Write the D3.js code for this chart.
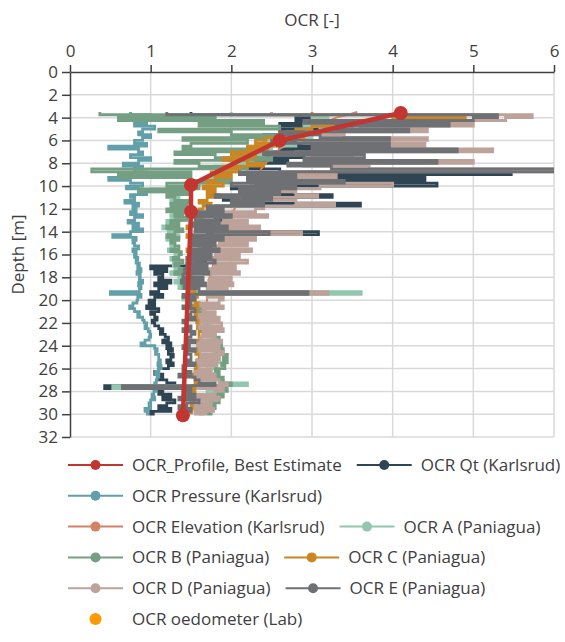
<!DOCTYPE html>
<html>
<head>
<meta charset="utf-8">
<script src="https://cdn.jsdelivr.net/npm/d3@7/dist/d3.min.js"></script>
<style>
  body { margin: 0; background: #fff; }
  svg text { font-family: "Open Sans", "Noto Sans", sans-serif; fill: #404040; }
</style>
</head>
<body>
<div id="chart"></div>
<script>
// ---- data ----
const xTicks = [0, 1, 2, 3, 4, 5, 6];
const yTicks = [0, 2, 4, 6, 8, 10, 12, 14, 16, 18, 20, 22, 24, 26, 28, 30, 32];

// CPT depth samples [m]
const depth = [
  3.5, 3.75,
  4, 4.25, 4.5, 4.75,  5, 5.25, 5.5, 5.75,  6, 6.25, 6.5, 6.75,  7, 7.25, 7.5, 7.75,
  8, 8.25, 8.5, 8.75,  9, 9.25, 9.5, 9.75,  10, 10.25, 10.5, 10.75,  11, 11.25, 11.5, 11.75,
  12, 12.25, 12.5, 12.75,  13, 13.25, 13.5, 13.75,  14, 14.25, 14.5, 14.75,  15, 15.25, 15.5, 15.75,
  16, 16.25, 16.5, 16.75,  17, 17.25, 17.5, 17.75,  18, 18.25, 18.5, 18.75,  19, 19.25, 19.5, 19.75,
  20, 20.25, 20.5, 20.75,  21, 21.25, 21.5, 21.75,  22, 22.25, 22.5, 22.75,  23, 23.25, 23.5, 23.75,
  24, 24.25, 24.5, 24.75,  25, 25.25, 25.5, 25.75,  26, 26.25, 26.5, 26.75,  27, 27.25, 27.5, 27.75,
  28, 28.25, 28.5, 28.75,  29, 29.25, 29.5, 29.75,
  30
];

const ocrQt = [
  1.5, 3.0,
  2.8, 3.2, 2.6, 3.4,  2.6, 3.0, 2.4, 2.8,  2.5, 3.2, 2.6, 3.0,  2.5, 2.9, 2.3, 2.7,
  2.4, 2.2, 2.6, 5.47,  2.2, 4.4, 2.3, 4.55,  2.0, 2.75, 2.1, 3.25,  1.9, 2.2, 3.6, 1.8,
  1.75, 1.9, 1.8, 1.93,  1.85, 1.7, 1.9, 1.65,  3.08, 1.7, 1.65, 1.75,  1.65, 1.8, 1.6, 1.72,
  1.62, 1.55, 1.68, 1.45,  1.0, 1.2, 1.05, 1.15,  1.1, 1.25, 1.05, 1.2,  1.1, 1.0, 1.15, 1.05,
  0.98, 1.05, 0.95, 1.1,  1.0, 1.05, 1.08, 1.02,  1.05, 1.1, 1.15, 1.12,  1.18, 1.22, 1.15, 1.25,
  1.2, 1.27, 1.22, 1.28,  1.25, 1.2, 1.28, 1.22,  1.1, 1.05, 1.15, 1.1,  1.2, 1.3, 0.43, 1.15,
  1.1, 1.25, 1.15, 1.3,  1.2, 1.1, 1.25, 1.0,
  1.05
];

const ocrPressure = [
  0.75, 1.0,
  0.85, 0.95, 0.8, 1.05,  0.9, 0.85, 1.0, 0.9,  0.8, 0.95, 0.48, 0.85,  0.9, 0.75, 1.0, 0.85,
  0.66, 0.9, 0.8, 0.95,  0.7, 0.48, 0.75, 0.9,  0.7, 0.85, 0.95, 0.75,  0.8, 0.68, 0.85, 0.78,
  0.82, 0.75, 0.9, 0.8,  0.72, 0.85, 0.78, 0.9,  0.75, 0.53, 0.82, 0.78,  0.8, 0.85, 0.78, 0.82,
  0.8, 0.84, 0.82, 0.86,  0.84, 0.88, 0.83, 0.87,  0.86, 0.9, 0.85, 0.88,  0.86, 0.5, 0.88, 0.84,
  0.83, 0.78, 0.74, 0.8,  0.86, 0.84, 0.9, 0.92,  0.95, 0.93, 0.97, 0.99,  1.0, 0.98, 0.93, 0.88,
  1.05, 1.08, 1.06, 1.1,  1.1, 1.12, 1.09, 1.13,  1.1, 1.06, 1.1, 1.08,  1.07, 1.05, 1.03, 1.06,
  1.04, 1.02, 1.05, 1.0,  0.98, 1.0, 0.93, 0.96,
  0.98
];

const ocrElevation = [
  3.56, 3.45,
  3.3, 3.22, 3.12, 3.05,  2.96, 2.9, 2.84, 2.79,  2.74, 2.7, 2.66, 2.6,  2.56, 2.52, 2.49, 2.45,
  2.43, 2.4, 2.37, 2.35,  2.33, 2.3, 2.28, 2.26,  2.23, 2.2, 2.18, 2.16,  2.13, 2.1, 2.08, 2.06,
  2.04, 2.01, 1.99, 1.97,  1.96, 1.95, 1.93, 1.92,  1.91, 1.9, 1.88, 1.87,  1.86, 1.85, 1.84, 1.83,
  1.82, 1.8, 1.79, 1.78,  1.77, 1.76, 1.75, 1.74,  1.73, 1.72, 1.72, 1.71,  1.71, 1.7, 1.7, 1.7,
  1.7, 1.69, 1.69, 1.68,  1.68, 1.68, 1.67, 1.67,  1.66, 1.66, 1.65, 1.65,  1.64, 1.64, 1.63, 1.63,
  1.62, 1.62, 1.61, 1.61,  1.6, 1.6, 1.59, 1.59,  1.58, 1.58, 1.57, 1.57,  1.56, 1.56, 1.55, 1.55,
  1.55, 1.54, 1.54, 1.53,  1.53, 1.52, 1.52, 1.51,
  1.51
];

const ocrA = [
  2.0, 3.2,
  3.0, 3.4, 2.9, 3.5,  3.1, 2.7, 3.0, 2.6,  2.4, 2.8, 2.2, 2.5,  2.1, 2.4, 1.9, 2.2,
  2.0, 1.8, 2.1, 1.9,  1.8, 1.7, 1.77, 1.6,  1.5, 1.0, 1.4, 1.3,  1.35, 1.25, 1.4, 1.3,
  1.3, 1.35, 1.25, 1.4,  1.2, 1.3, 1.15, 1.28,  1.22, 1.35, 1.2, 1.3,  1.25, 1.3, 1.22, 1.35,
  1.3, 1.25, 1.35, 1.28,  1.3, 1.4, 1.25, 1.35,  1.4, 1.3, 1.45, 1.35,  1.45, 3.61, 1.5, 1.4,
  1.45, 1.5, 1.55, 1.6,  1.55, 1.6, 1.65, 1.58,  1.6, 1.7, 1.65, 1.75,  1.7, 1.78, 1.72, 1.8,
  1.75, 1.82, 1.78, 1.85,  1.8, 1.85, 1.78, 1.82,  1.7, 1.75, 1.65, 1.8,  1.9, 2.2, 0.53, 1.85,
  1.7, 1.8, 1.65, 1.75,  1.6, 1.7, 1.55, 1.65,
  1.6
];

const ocrB = [
  0.37, 1.8,
  0.6, 2.4, 1.6, 2.6,  1.1, 2.0, 2.8, 1.4,  2.2, 1.5, 1.4, 2.3,  1.3, 1.8, 2.5, 1.3,
  1.6, 2.2, 0.27, 1.5,  0.6, 1.5, 2.0, 1.2,  1.6, 0.85, 1.5, 1.2,  1.3, 1.5, 1.25, 1.45,
  1.2, 1.4, 1.3, 1.45,  1.25, 1.35, 1.2, 1.4,  1.3, 1.2, 1.35, 1.25,  1.3, 1.35, 1.25, 1.38,
  1.35, 1.28, 1.4, 1.3,  1.35, 1.42, 1.3, 1.4,  1.45, 1.38, 1.5, 1.4,  1.5, 1.55, 1.45, 1.5,
  1.55, 1.6, 1.5, 1.65,  1.6, 1.7, 1.62, 1.72,  1.7, 1.75, 1.68, 1.8,  1.78, 1.85, 1.8, 1.88,
  1.85, 1.9, 1.82, 1.95,  1.9, 1.95, 1.88, 1.92,  1.8, 1.85, 1.75, 1.9,  1.85, 2.0, 1.8, 1.95,
  1.8, 1.9, 1.75, 1.85,  1.7, 1.8, 1.65, 1.75,
  1.7
];

const ocrC = [
  3.0, 4.9,
  4.0, 3.6, 3.36, 3.0,  2.8, 2.6, 2.9, 2.43,  2.3, 2.6, 2.2, 2.45,  2.0, 2.3, 1.9, 2.2,
  2.4, 1.9, 2.1, 1.75,  2.0, 1.8, 1.7, 1.9,  1.65, 1.8, 1.7, 1.85,  1.7, 1.6, 1.75, 1.65,
  1.6, 1.55, 1.65, 1.5,  1.5, 1.55, 1.45, 1.5,  1.5, 1.45, 1.52, 1.48,  1.48, 1.5, 1.45, 1.5,
  1.5, 1.45, 1.52, 1.48,  1.48, 1.52, 1.46, 1.5,  1.52, 1.48, 1.55, 1.5,  1.55, 1.5, 1.58, 1.52,
  1.55, 1.6, 1.52, 1.58,  1.58, 1.55, 1.6, 1.57,  1.6, 1.58, 1.62, 1.6,  1.6, 1.62, 1.58, 1.6,
  1.58, 1.6, 1.56, 1.6,  1.6, 1.57, 1.6, 1.58,  1.55, 1.58, 1.52, 1.56,  1.55, 1.6, 1.52, 1.55,
  1.52, 1.55, 1.5, 1.54,  1.5, 1.52, 1.48, 1.5,
  1.5
];

const ocrD = [
  2.5, 5.73,
  5.4, 3.3, 5.0, 3.6,  4.43, 3.0, 3.4, 4.43,  2.9, 4.4, 3.2, 5.24,  2.8, 3.5, 3.0, 5.0,
  2.9, 3.71, 6.2, 2.6,  3.3, 2.6, 3.1, 4.0,  3.1, 2.4, 2.8, 3.07,  2.5, 2.8, 3.28, 2.4,
  2.3, 1.85, 2.45, 1.9,  2.2, 1.8, 2.35, 1.95,  2.87, 1.8, 2.3, 1.85,  2.2, 1.78, 2.25, 1.8,
  2.1, 1.75, 2.2, 1.8,  2.05, 1.72, 2.1, 1.75,  2.0, 1.72, 2.02, 1.7,  1.95, 3.2, 1.7, 1.9,
  1.85, 1.62, 1.9, 1.65,  1.8, 1.6, 1.85, 1.62,  1.88, 1.6, 1.9, 1.65,  1.8, 1.62, 1.88, 1.58,
  1.85, 1.6, 1.9, 1.62,  1.85, 1.58, 1.82, 1.6,  1.75, 1.55, 1.8, 1.58,  1.85, 1.95, 1.6, 1.9,
  1.8, 1.58, 1.85, 1.6,  1.75, 1.55, 1.78, 1.55,
  1.7
];

const ocrE = [
  1.2, 5.3,
  5.0, 2.9, 4.7, 3.3,  4.2, 2.6, 3.1, 3.96,  2.5, 3.96, 3.0, 4.8,  2.4, 3.65, 2.9, 4.55,
  2.7, 3.24, 6.2, 2.1,  2.8, 2.2, 3.4, 2.0,  2.8, 2.1, 2.6, 1.8,  2.5, 2.0, 2.4, 1.7,
  1.9, 1.5, 2.0, 1.55,  1.85, 1.5, 1.95, 1.55,  2.47, 1.5, 1.9, 1.5,  1.8, 1.48, 1.85, 1.5,
  1.75, 1.45, 1.8, 1.45,  1.7, 1.42, 1.72, 1.4,  1.65, 1.38, 1.68, 1.42,  1.6, 2.95, 1.4, 1.55,
  1.45, 1.5, 1.4, 1.55,  1.5, 1.45, 1.55, 1.4,  1.45, 1.5, 1.4, 1.55,  1.5, 1.45, 1.55, 1.48,
  1.4, 1.55, 1.45, 1.5,  1.5, 1.45, 1.55, 1.4,  1.4, 1.5, 1.35, 1.55,  1.6, 1.8, 0.65, 1.5,
  1.4, 1.55, 1.35, 1.6,  1.45, 1.35, 1.5, 1.4,
  1.45
];

// best estimate profile
const bestDepth = [3.6, 6.0, 9.9, 12.25, 30.1];
const bestOcr = [4.1, 2.6, 1.5, 1.5, 1.4];

// lab oedometer points (none fall inside the plotted range)
const oedDepth = [];
const oedOcr = [];

const seriesNames = [
  'OCR_Profile, Best Estimate', 'OCR Qt (Karlsrud)', 'OCR Pressure (Karlsrud)',
  'OCR Elevation (Karlsrud)', 'OCR A (Paniagua)', 'OCR B (Paniagua)', 'OCR C (Paniagua)',
  'OCR D (Paniagua)', 'OCR E (Paniagua)', 'OCR oedometer (Lab)'
];
const seriesColors = ['#c23531', '#2f4554', '#61a0a8', '#d48265', '#91c7ae', '#749f83',
  '#ca8622', '#bda29a', '#6e7074', '#ff9900'];

// ---- chart ----
const width = 565, height = 642;
const margin = { left: 70, right: 11, top: 72, bottom: 205 };

const svg = d3.select('#chart').append('svg')
  .attr('width', width)
  .attr('height', height);

const x = d3.scaleLinear().domain([0, 6]).range([margin.left, width - margin.right]);
const y = d3.scaleLinear().domain([0, 32]).range([margin.top, height - margin.bottom]);

// grid
svg.append('g')
  .selectAll('line')
  .data(xTicks.slice(1))
  .join('line')
  .attr('x1', d => x(d)).attr('x2', d => x(d))
  .attr('y1', y(0)).attr('y2', y(32))
  .attr('stroke', '#d9d9d9').attr('stroke-width', 1.5);

svg.append('g')
  .selectAll('line')
  .data(yTicks.slice(1))
  .join('line')
  .attr('x1', x(0)).attr('x2', x(6))
  .attr('y1', d => y(d)).attr('y2', d => y(d))
  .attr('stroke', '#d9d9d9').attr('stroke-width', 1.5);

svg.append('clipPath').attr('id', 'plot-clip')
  .append('rect')
  .attr('x', x(0)).attr('y', y(0))
  .attr('width', x(6) - x(0)).attr('height', y(32) - y(0));

const plot = svg.append('g').attr('clip-path', 'url(#plot-clip)');

// CPT derived profiles, drawn in legend order
const profiles = [ocrQt, ocrPressure, ocrElevation, ocrA, ocrB, ocrC, ocrD, ocrE];

profiles.forEach((values, i) => {
  const smooth = i === 2;
  const line = d3.line()
    .x(d => x(d))
    .y((d, j) => y(depth[j]))
    .curve(smooth ? d3.curveLinear : d3.curveStepBefore);

  plot.append('path')
    .datum(values)
    .attr('fill', 'none')
    .attr('stroke', seriesColors[i + 1])
    .attr('stroke-width', smooth ? 2 : 2.8)
    .attr('d', line);
});

// best estimate on top
const bestLine = d3.line()
  .x(d => x(d))
  .y((d, j) => y(bestDepth[j]));

plot.append('path')
  .datum(bestOcr)
  .attr('fill', 'none')
  .attr('stroke', seriesColors[0])
  .attr('stroke-width', 4.5)
  .attr('stroke-linejoin', 'round')
  .attr('d', bestLine);

plot.selectAll('.best-dot')
  .data(bestOcr)
  .join('circle')
  .attr('class', 'best-dot')
  .attr('cx', d => x(d))
  .attr('cy', (d, j) => y(bestDepth[j]))
  .attr('r', 7)
  .attr('fill', seriesColors[0]);

plot.selectAll('.oed-dot')
  .data(oedOcr)
  .join('circle')
  .attr('class', 'oed-dot')
  .attr('cx', d => x(d))
  .attr('cy', (d, j) => y(oedDepth[j]))
  .attr('r', 6)
  .attr('fill', seriesColors[9]);

// axes
const xAxis = svg.append('g')
  .attr('transform', `translate(0,${y(0)})`)
  .call(d3.axisTop(x).tickValues(xTicks).tickFormat(d3.format('d'))
    .tickSizeInner(7).tickSizeOuter(0).tickPadding(8));

const yAxis = svg.append('g')
  .attr('transform', `translate(${x(0)},0)`)
  .call(d3.axisLeft(y).tickValues(yTicks).tickFormat(d3.format('d'))
    .tickSizeInner(8).tickSizeOuter(0).tickPadding(4));

[xAxis, yAxis].forEach(ax => {
  ax.select('.domain').attr('stroke', '#404040').attr('stroke-width', 1.5);
  ax.selectAll('.tick line').attr('stroke', '#404040').attr('stroke-width', 1.5);
  ax.selectAll('.tick text')
    .attr('fill', '#404040')
    .style('font-size', '17px')
    .style('font-family', '"Open Sans", "Noto Sans", sans-serif');
});

svg.append('text')
  .attr('x', (x(0) + x(6)) / 2)
  .attr('y', 26)
  .attr('text-anchor', 'middle')
  .style('font-size', '17px')
  .text('OCR [-]');

svg.append('text')
  .attr('transform', `translate(24,${(y(0) + y(32)) / 2}) rotate(-90)`)
  .attr('text-anchor', 'middle')
  .style('font-size', '17px')
  .text('Depth [m]');

// legend, wraps like the original
const legendRows = [[0, 1], [2], [3, 4], [5, 6], [7, 8], [9]];
const legend = svg.append('g');

legendRows.forEach((row, r) => {
  const cy = 465 + r * 30.8;
  let lx = 68;
  row.forEach(idx => {
    const item = legend.append('g').attr('transform', `translate(${lx},${cy})`);
    if (idx !== 9) {
      item.append('line')
        .attr('x1', 0).attr('x2', 55)
        .attr('y1', 0).attr('y2', 0)
        .attr('stroke', seriesColors[idx])
        .attr('stroke-width', 2);
      item.append('circle')
        .attr('cx', 27.5).attr('cy', 0).attr('r', 5)
        .attr('fill', seriesColors[idx]);
    } else {
      item.append('circle')
        .attr('cx', 27.5).attr('cy', 0).attr('r', 6)
        .attr('fill', seriesColors[idx]);
    }
    const label = item.append('text')
      .attr('x', 64)
      .attr('y', 0)
      .attr('dy', '0.35em')
      .style('font-size', '17px')
      .text(seriesNames[idx]);
    lx += 64 + label.node().getComputedTextLength() + 15;
  });
});
</script>
</body>
</html>
